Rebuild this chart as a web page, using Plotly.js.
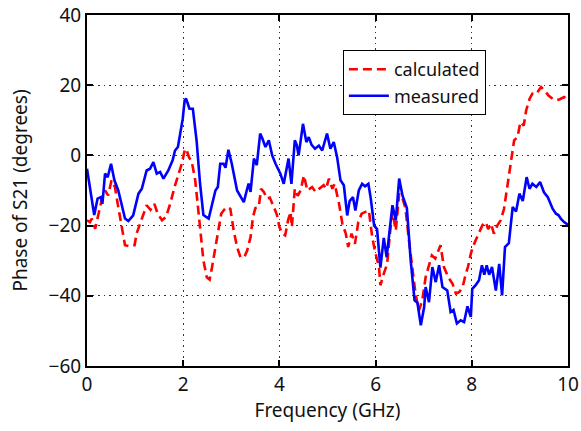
<!DOCTYPE html>
<html>
<head>
<meta charset="utf-8">
<script src="https://cdn.plot.ly/plotly-3.0.1.min.js"></script>
<style>html,body{margin:0;padding:0;background:#fff;}#chart{width:581px;height:431px;}</style>
</head>
<body>
<div id="chart"></div>
<script>
var measuredX = [0.0,0.15,0.22,0.29,0.32,0.375,0.43,0.5,0.57,0.65,0.79,0.86,0.96,1.07,1.14,1.24,1.31,1.38,1.45,1.52,1.59,1.69,1.78,1.83,1.89,1.94,1.99,2.03,2.06,2.13,2.2,2.28,2.35,2.42,2.53,2.6,2.67,2.72,2.77,2.84,2.88,2.94,3.01,3.12,3.26,3.33,3.36,3.4,3.47,3.53,3.6,3.64,3.71,3.78,3.85,3.92,4.02,4.09,4.19,4.25,4.32,4.36,4.4,4.49,4.56,4.61,4.67,4.74,4.82,4.89,4.99,5.06,5.13,5.2,5.27,5.34,5.41,5.46,5.53,5.58,5.65,5.72,5.78,5.85,5.9,5.97,6.03,6.1,6.17,6.23,6.31,6.35,6.42,6.49,6.56,6.65,6.73,6.81,6.87,6.94,7.01,7.04,7.11,7.18,7.25,7.32,7.39,7.49,7.56,7.62,7.69,7.77,7.84,7.91,7.98,8.01,8.08,8.15,8.21,8.26,8.31,8.36,8.42,8.5,8.57,8.63,8.69,8.77,8.85,8.92,8.99,9.06,9.14,9.2,9.26,9.34,9.42,9.5,9.58,9.68,9.75,9.8,9.85,9.92,10.0];
var measuredY = [-3.8,-17,-12.3,-11.9,-13.8,-5.2,-6.2,-2.4,-7.1,-10,-18,-18.7,-17.1,-10.9,-9.5,-4.3,-3.8,-1.9,-5.2,-4.7,-6.6,-4.3,-1.4,1.4,2.4,6.2,10.4,15.7,16.2,13.3,13.3,4,-8,-17,-18,-14,-10,-9,-2.4,-2.4,-3.5,1.6,-2.4,-10,-13.3,-9.5,-8,-10.4,-0.9,-2.8,6.2,5,2.4,4.3,0,-2.4,-5.2,-8.1,-0.9,-8.1,4.3,3,0,9,3.8,5.2,3,1.9,2.8,1.4,6.2,1.9,3.8,-0.5,-7.1,-8.5,-17.1,-13,-11.9,-15.7,-10,-8.1,-8.8,-8.1,-12.3,-20,-21,-32,-23.5,-29,-19,-14.2,-18.5,-6.6,-11.5,-15,-30,-41.3,-42,-48.4,-43.2,-37.5,-41.8,-31.8,-36.1,-31.3,-37.5,-38.5,-44.6,-44,-47.9,-47,-47.5,-43,-46,-38,-37,-35.6,-31.3,-34,-31.3,-34,-31.8,-38.5,-30.9,-39.9,-26.1,-25,-14.7,-16,-10.9,-13,-6.2,-9.5,-8.1,-9,-7.6,-10.5,-11.9,-15.2,-16.6,-17,-18,-19,-19.8];

var calculatedX = [0.0,0.06,0.1,0.17,0.24,0.3,0.375,0.44,0.51,0.58,0.65,0.72,0.79,0.9,0.99,1.03,1.1,1.17,1.24,1.32,1.4,1.47,1.56,1.64,1.73,1.82,1.9,1.97,2.03,2.06,2.12,2.18,2.25,2.32,2.37,2.42,2.49,2.55,2.6,2.67,2.74,2.79,2.85,2.91,2.98,3.05,3.12,3.19,3.27,3.33,3.4,3.45,3.5,3.57,3.62,3.68,3.74,3.8,3.9,3.95,4.0,4.06,4.12,4.18,4.23,4.26,4.32,4.38,4.44,4.51,4.58,4.68,4.75,4.84,4.92,4.97,5.03,5.1,5.15,5.24,5.31,5.38,5.43,5.5,5.57,5.64,5.71,5.79,5.86,5.93,5.99,6.07,6.1,6.17,6.24,6.3,6.35,6.42,6.49,6.56,6.62,6.7,6.77,6.83,6.9,6.97,7.04,7.11,7.17,7.24,7.28,7.35,7.42,7.51,7.6,7.67,7.74,7.81,7.87,7.92,7.98,8.01,8.08,8.15,8.22,8.29,8.34,8.4,8.46,8.53,8.6,8.67,8.74,8.81,8.88,8.95,9.01,9.08,9.13,9.2,9.26,9.34,9.44,9.51,9.6,9.68,9.75,9.83,9.92,10.0];
var calculatedY = [-18.5,-19,-18,-20.9,-16.6,-13,-10,-11.4,-7.1,-9,-14.7,-20.4,-25.6,-25.9,-25.6,-22.3,-19.5,-16.6,-14.2,-15.5,-13.8,-16.6,-18.5,-17.6,-13.8,-9,-5.2,-2.4,1.4,1.9,-0.5,-1.9,-7.1,-15.7,-23.3,-29.9,-34.7,-35.4,-31.8,-26.1,-20.4,-16.6,-15.5,-14.7,-15.2,-21.4,-26.1,-29,-29,-27.1,-23.3,-17.6,-15,-14.7,-9.5,-10.5,-12.3,-12,-15.2,-17,-20.4,-22.3,-22.8,-18.5,-16.1,-20.4,-9.5,-11.5,-10,-5.7,-10,-9,-10.4,-9.5,-8.5,-9.5,-6.6,-9.5,-8.1,-13.8,-19.5,-22.3,-26.1,-22.3,-25.2,-19,-16.6,-16.1,-15.7,-23.3,-27.5,-31.8,-37,-33.7,-30.9,-22,-16.1,-21.4,-10.9,-12.3,-15,-25,-33,-39.4,-44.2,-41.3,-34.7,-31.3,-28.5,-29.4,-28,-25.6,-31.8,-34.7,-36.6,-39.4,-38.9,-37.5,-34,-31.8,-28,-26.6,-24.2,-22,-19.9,-19,-21,-19.5,-22.3,-20,-18.5,-15.2,-9,-1.4,4.3,5.2,9.5,8.5,12.8,16.1,17.6,17.5,19.5,18.5,17,16.1,15.7,16,16.6,15.7];

var xTicks = [0,2,4,6,8,10];
var yTicks = [-60,-40,-20,0,20,40];
var seriesNames = ['calculated','measured'];

var font = 'Noto Sans, Open Sans, DejaVu Sans, sans-serif';

var traces = [
  {x: calculatedX, y: calculatedY, name: seriesNames[0], mode: 'lines',
   line: {color: '#ff0000', width: 2.6, dash: '9px,5px'}},
  {x: measuredX, y: measuredY, name: seriesNames[1], mode: 'lines',
   line: {color: '#0000ff', width: 2.6}}
];

var axisCommon = {
  showline: true, linecolor: '#000', linewidth: 2, mirror: 'ticks',
  ticks: 'inside', ticklen: 6, tickwidth: 2, tickcolor: '#000',
  showgrid: true, gridcolor: '#333', gridwidth: 1.2, griddash: '1.5px,4px',
  zeroline: false, tickfont: {family: font, size: 19, color: '#111'}
};

var layout = {
  width: 581, height: 431,
  margin: {l: 87, r: 13, t: 15, b: 65},
  paper_bgcolor: '#fff', plot_bgcolor: '#fff',
  showlegend: true,
  legend: {x: 0.532, y: 0.90, xanchor: 'left', yanchor: 'top',
           bordercolor: '#000', borderwidth: 1, bgcolor: '#fff',
           font: {family: font, size: 18, color: '#111'},
           tracegroupgap: 0, itemwidth: 40},
  xaxis: Object.assign({}, axisCommon, {
    range: [0, 10], tickmode: 'array', tickvals: xTicks, ticktext: xTicks.map(String),
    title: {text: 'Frequency (GHz)', font: {family: font, size: 19, color: '#111'}, standoff: 6}
  }),
  yaxis: Object.assign({}, axisCommon, {
    range: [-60, 40], tickmode: 'array', tickvals: yTicks,
    ticktext: yTicks.map(function(v){ return v < 0 ? '\u2212' + Math.abs(v) : String(v); }),
    title: {text: 'Phase of S21 (degrees)', font: {family: font, size: 19, color: '#111'}, standoff: 16}
  })
};

Plotly.newPlot('chart', traces, layout, {displayModeBar: false, staticPlot: true});
</script>
</body>
</html>
